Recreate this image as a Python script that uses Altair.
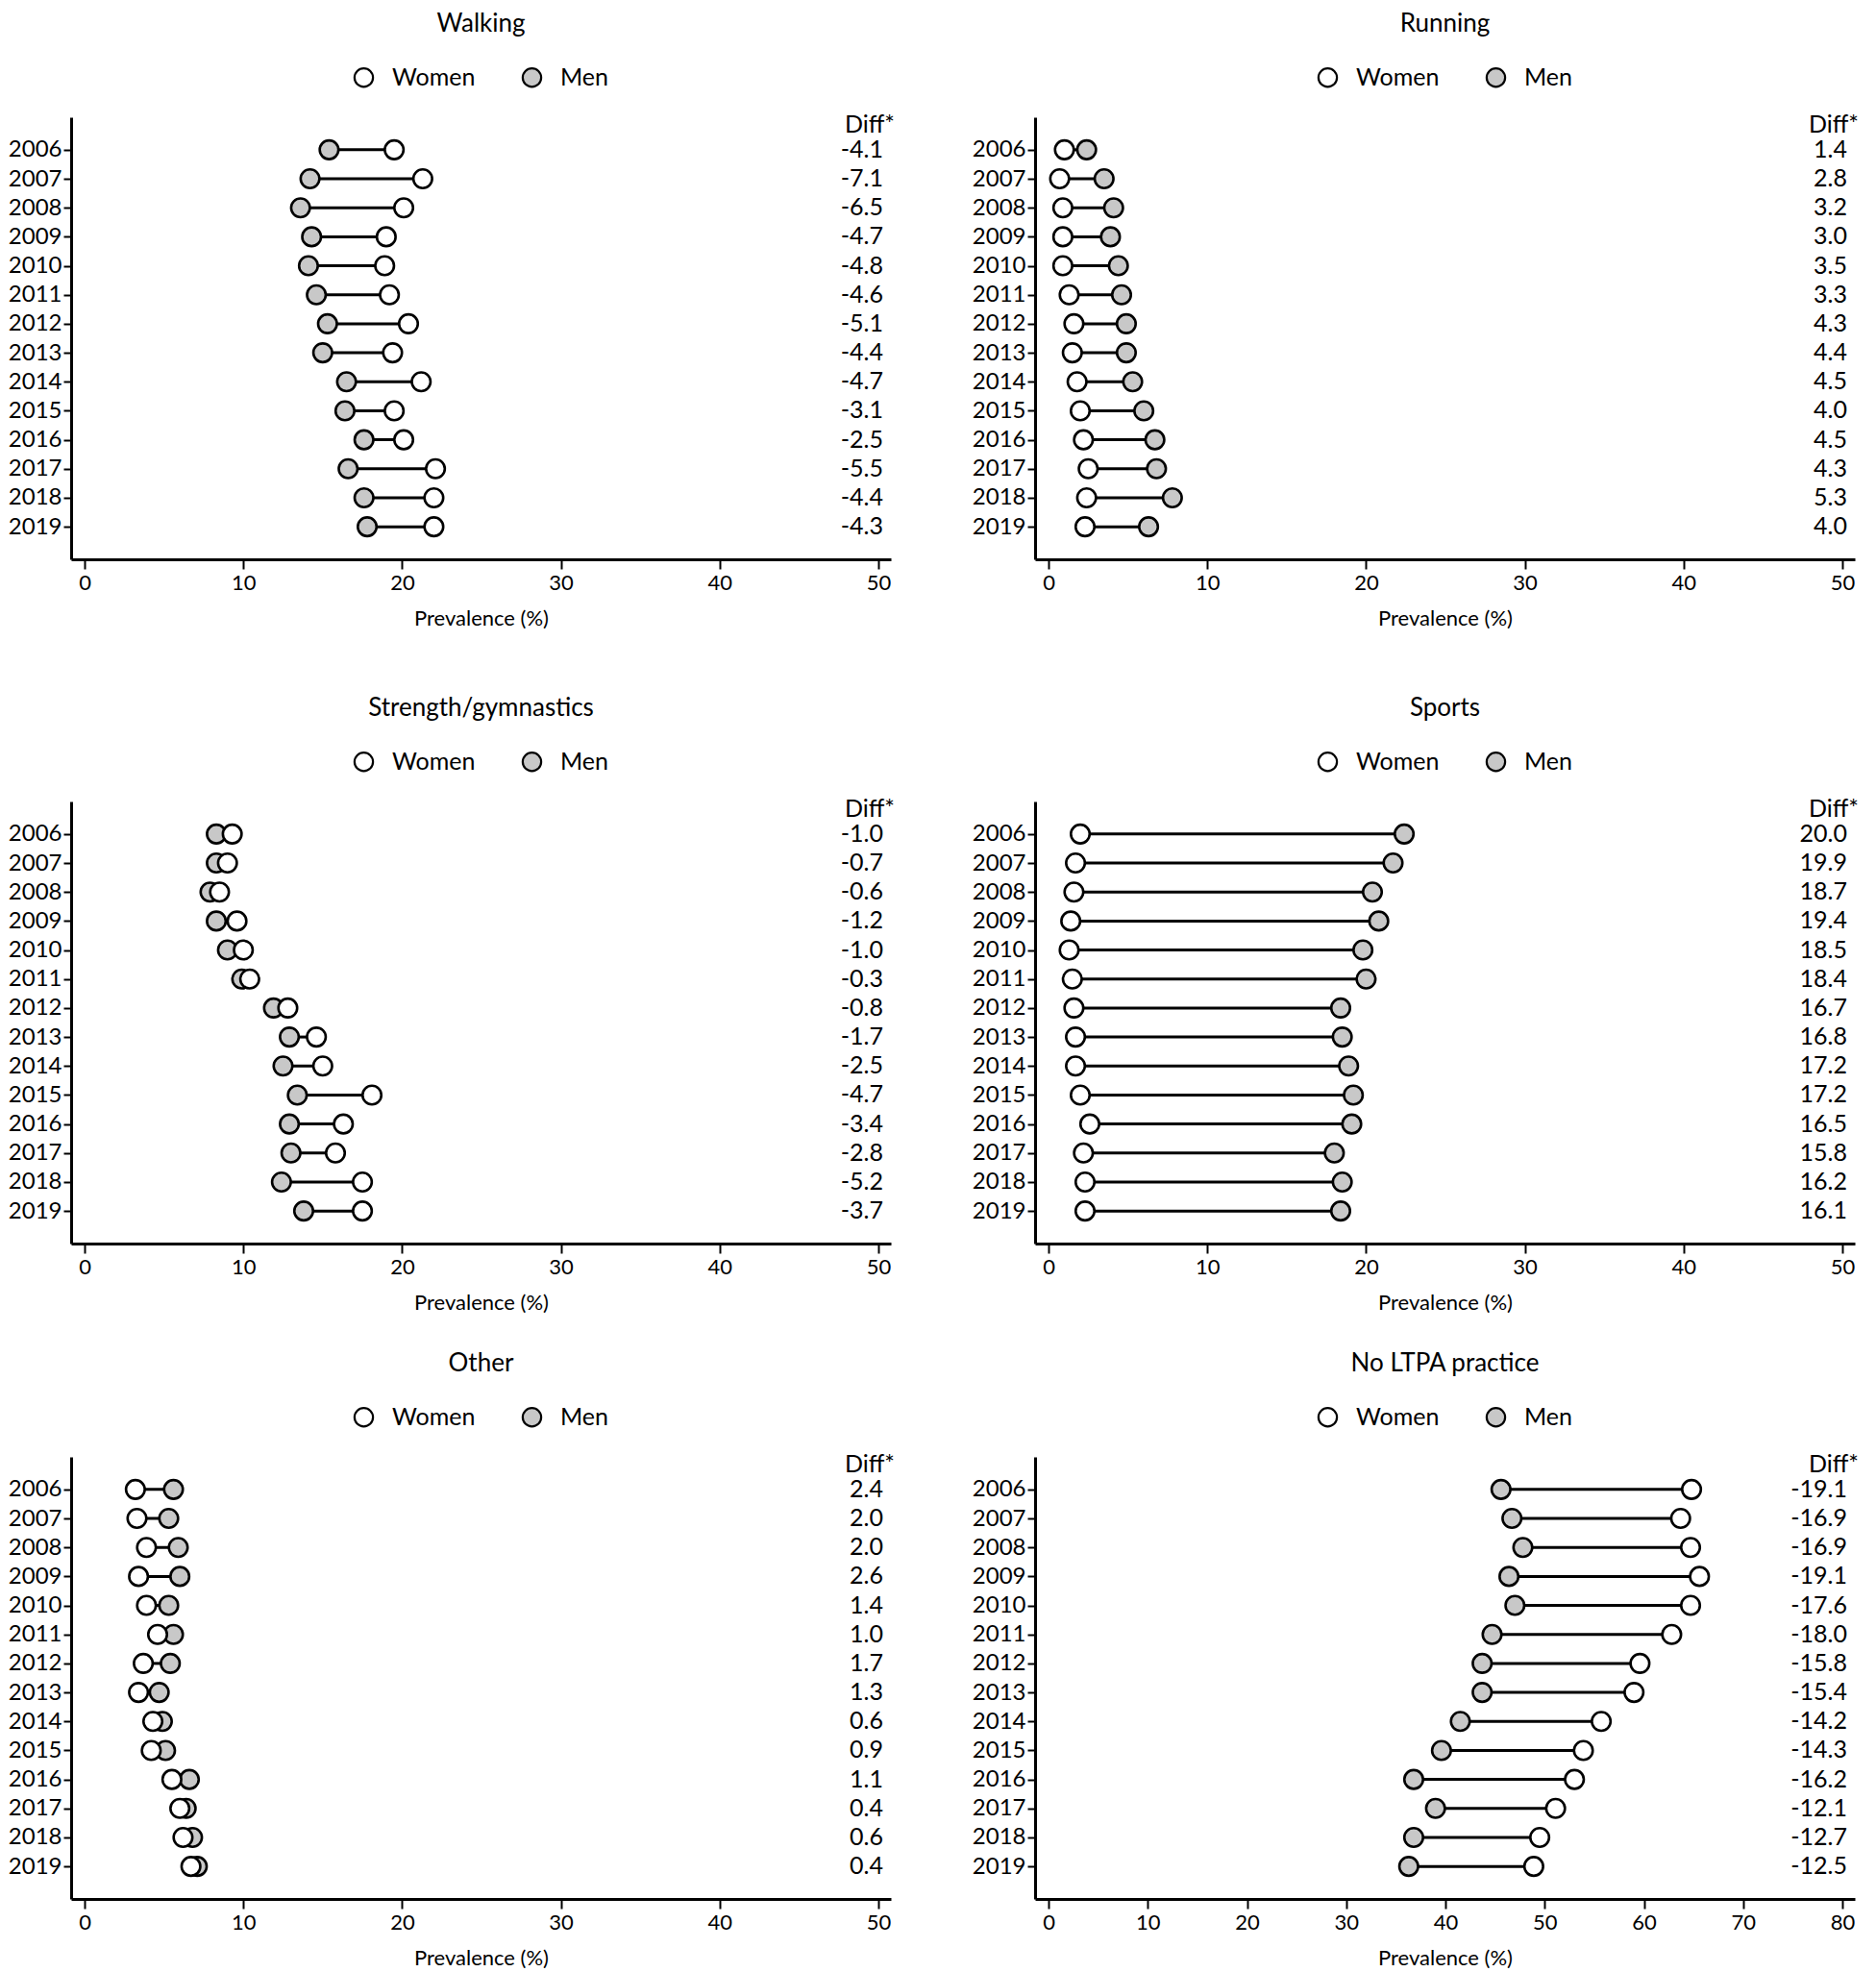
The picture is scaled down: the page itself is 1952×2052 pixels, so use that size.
import altair as alt
import pandas as pd

years = list(range(2006, 2020))

walking_women = [19.5, 21.3, 20.1, 19.0, 18.9, 19.2, 20.4, 19.4, 21.2, 19.5, 20.1, 22.1, 22.0, 22.0]
walking_men = [15.4, 14.2, 13.6, 14.3, 14.1, 14.6, 15.3, 15.0, 16.5, 16.4, 17.6, 16.6, 17.6, 17.8]
walking_diff = [-4.1, -7.1, -6.5, -4.7, -4.8, -4.6, -5.1, -4.4, -4.7, -3.1, -2.5, -5.5, -4.4, -4.3]

running_women = [1.0, 0.7, 0.9, 0.9, 0.9, 1.3, 1.6, 1.5, 1.8, 2.0, 2.2, 2.5, 2.4, 2.3]
running_men = [2.4, 3.5, 4.1, 3.9, 4.4, 4.6, 4.9, 4.9, 5.3, 6.0, 6.7, 6.8, 7.8, 6.3]
running_diff = [1.4, 2.8, 3.2, 3.0, 3.5, 3.3, 4.3, 4.4, 4.5, 4.0, 4.5, 4.3, 5.3, 4.0]

strength_women = [9.3, 9.0, 8.5, 9.6, 10.0, 10.4, 12.8, 14.6, 15.0, 18.1, 16.3, 15.8, 17.5, 17.5]
strength_men = [8.3, 8.3, 7.9, 8.3, 9.0, 9.9, 11.9, 12.9, 12.5, 13.4, 12.9, 13.0, 12.4, 13.8]
strength_diff = [-1.0, -0.7, -0.6, -1.2, -1.0, -0.3, -0.8, -1.7, -2.5, -4.7, -3.4, -2.8, -5.2, -3.7]

sports_women = [2.0, 1.7, 1.6, 1.4, 1.3, 1.5, 1.6, 1.7, 1.7, 2.0, 2.6, 2.2, 2.3, 2.3]
sports_men = [22.4, 21.7, 20.4, 20.8, 19.8, 20.0, 18.4, 18.5, 18.9, 19.2, 19.1, 18.0, 18.5, 18.4]
sports_diff = [20.0, 19.9, 18.7, 19.4, 18.5, 18.4, 16.7, 16.8, 17.2, 17.2, 16.5, 15.8, 16.2, 16.1]

other_women = [3.2, 3.3, 3.9, 3.4, 3.9, 4.6, 3.7, 3.4, 4.3, 4.2, 5.5, 6.0, 6.2, 6.7]
other_men = [5.6, 5.3, 5.9, 6.0, 5.3, 5.6, 5.4, 4.7, 4.9, 5.1, 6.6, 6.4, 6.8, 7.1]
other_diff = [2.4, 2.0, 2.0, 2.6, 1.4, 1.0, 1.7, 1.3, 0.6, 0.9, 1.1, 0.4, 0.6, 0.4]

noltpa_women = [64.8, 63.7, 64.7, 65.6, 64.7, 62.8, 59.6, 59.0, 55.7, 53.9, 53.0, 51.1, 49.5, 48.9]
noltpa_men = [45.6, 46.7, 47.8, 46.4, 47.0, 44.7, 43.7, 43.7, 41.5, 39.6, 36.8, 39.0, 36.8, 36.3]
noltpa_diff = [-19.1, -16.9, -16.9, -19.1, -17.6, -18.0, -15.8, -15.4, -14.2, -14.3, -16.2, -12.1, -12.7, -12.5]

ticks_50 = [0, 10, 20, 30, 40, 50]
ticks_80 = [0, 10, 20, 30, 40, 50, 60, 70, 80]

FONT = "Lato"
W, H = 853, 460
PAD_L, PAD_R = 14, 13
ROW_PAD = 1.122
FILL_DOMAIN = ["Women", "Men"]
FILL_RANGE = ["#ffffff", "#c8c8c8"]


def panel(title, women, men, diff, xmax, xticks):
    df = pd.DataFrame({
        "year": years,
        "Women": women,
        "Men": men,
        "diff": [f"{d:.1f}" for d in diff],
    })
    u = xmax / (W - PAD_L - PAD_R)
    xscale = alt.Scale(domain=[-PAD_L * u, xmax + PAD_R * u], nice=False, zero=False)
    xaxis = alt.Axis(values=xticks, title="Prevalence (%)", grid=False, tickSize=10,
                     labelFontSize=22, titleFontSize=22, titleFontWeight="normal",
                     titlePadding=16, labelPadding=4)
    y = alt.Y("year:Q",
              scale=alt.Scale(domain=[2006 - ROW_PAD, 2019 + ROW_PAD], reverse=True,
                              nice=False, zero=False),
              axis=alt.Axis(values=years, format="d", title=None, grid=False,
                            tickSize=8, labelFontSize=24, labelPadding=2))
    base = alt.Chart(df)
    rules = base.mark_rule(color="black", strokeWidth=3).encode(
        x=alt.X("Men:Q", scale=xscale, axis=xaxis),
        x2="Women:Q",
        y=y,
    )
    points = base.transform_fold(["Men", "Women"], as_=["sex", "prev"]).mark_circle(
        size=380, opacity=1, stroke="black", strokeWidth=2.6
    ).encode(
        x=alt.X("prev:Q", scale=xscale, axis=xaxis),
        y=y,
        fill=alt.Fill("sex:N",
                      scale=alt.Scale(domain=FILL_DOMAIN, range=FILL_RANGE),
                      legend=alt.Legend(title=None, orient="none", legendX=292, legendY=-54,
                                        direction="horizontal", symbolType="circle",
                                        symbolSize=370, symbolStrokeColor="black",
                                        symbolStrokeWidth=2.2, symbolOpacity=1,
                                        labelFontSize=25, labelFont=FONT, labelColor="black",
                                        labelOffset=17, columnPadding=44)),
    )
    diffs = base.mark_text(align="right", baseline="middle", fontSize=25, font=FONT,
                           color="black", dx=-8).encode(
        x=alt.value(W),
        y=y,
        text="diff:N",
    )
    header = alt.Chart(pd.DataFrame({"label": ["Diff*"]})).mark_text(
        align="right", baseline="middle", fontSize=25, font=FONT, color="black", dx=4
    ).encode(
        x=alt.value(W),
        y=alt.value(8),
        text="label:N",
    )
    return alt.layer(rules, points, diffs, header).properties(
        width=W, height=H,
        title=alt.TitleParams(text=title, fontSize=26, font=FONT, fontWeight="normal",
                              anchor="middle", color="black", offset=30),
    )


def row(a, b):
    return alt.hconcat(a, b, spacing=80).resolve_scale(fill="independent").resolve_legend(
        fill="independent")


r1 = row(panel("Walking", walking_women, walking_men, walking_diff, 50, ticks_50),
         panel("Running", running_women, running_men, running_diff, 50, ticks_50))
r2 = row(panel("Strength/gymnastics", strength_women, strength_men, strength_diff, 50, ticks_50),
         panel("Sports", sports_women, sports_men, sports_diff, 50, ticks_50))
r3 = row(panel("Other", other_women, other_men, other_diff, 50, ticks_50),
         panel("No LTPA practice", noltpa_women, noltpa_men, noltpa_diff, 80, ticks_80))

lower = alt.vconcat(r2, r3, spacing=40).resolve_scale(fill="independent").resolve_legend(
    fill="independent")
chart = alt.vconcat(r1, lower, spacing=70).resolve_scale(fill="independent").resolve_legend(
    fill="independent").properties(
    padding={"top": 4, "left": 0, "right": 0, "bottom": 0}
).configure_view(stroke=None).configure_axis(
    domainColor="black", domainWidth=3, tickColor="black", tickWidth=2,
    labelColor="black", titleColor="black", labelFont=FONT, titleFont=FONT,
).configure_title(font=FONT)

chart.save("out.html", embed_options={"renderer": "svg", "actions": False})
